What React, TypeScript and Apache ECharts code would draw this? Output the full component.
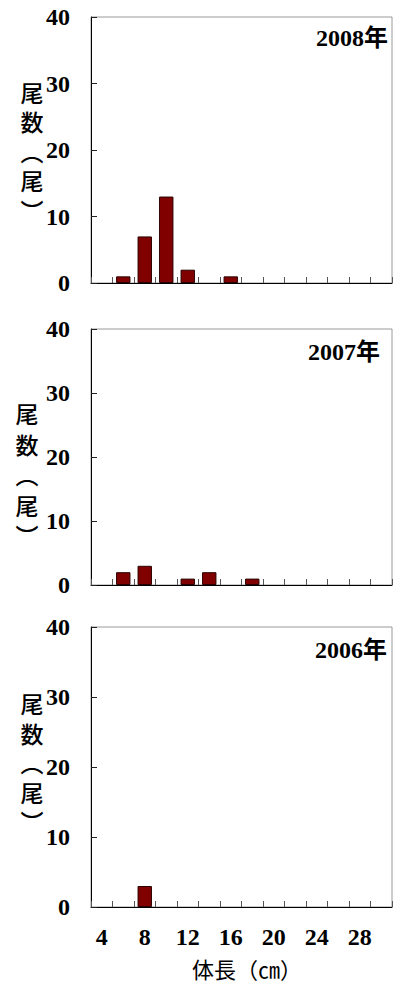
import React, { useEffect, useRef } from "react";
import * as echarts from "echarts";

const lengths = ["4", "6", "8", "10", "12", "14", "16", "18", "20", "22", "24", "26", "28", "30"];
const counts2008 = [0, 1, 7, 13, 2, 0, 1, 0, 0, 0, 0, 0, 0, 0];
const counts2007 = [0, 2, 3, 0, 1, 2, 0, 1, 0, 0, 0, 0, 0, 0];
const counts2006 = [0, 0, 3, 0, 0, 0, 0, 0, 0, 0, 0, 0, 0, 0];
const yearLabels = ["2008年", "2007年", "2006年"];
const yTicks = [0, 10, 20, 30, 40];
const yName = "尾\n数\n︵\n尾\n︶";
const xName = "体長（㎝）";

const SERIF = "'Liberation Serif', 'Times New Roman', serif";
const CJK = "'Noto Sans CJK JP', sans-serif";

export default function App() {
  const ref = useRef<HTMLDivElement>(null);
  useEffect(() => {
    if (!ref.current) return;
    const chart = echarts.init(ref.current, null, { renderer: "svg" });
    const panels = [
      { top: 17, height: 266, data: counts2008, yearX: 388, yearY: 38, nameX: 32, nameY: 91.5, lh: 29.5 },
      { top: 329, height: 256, data: counts2007, yearX: 380, yearY: 352, nameX: 27, nameY: 413, lh: 30.5 },
      { top: 627, height: 280, data: counts2006, yearX: 387, yearY: 650, nameX: 32, nameY: 703, lh: 29.5 },
    ];
    const grids = panels.map((p) => ({
      left: 91,
      width: 301,
      top: p.top,
      height: p.height,
      show: true,
      borderColor: "#9a9a9a",
      borderWidth: 1,
      backgroundColor: "transparent",
      containLabel: false,
    }));
    const xAxes = panels.map((p, i) => ({
      type: "category",
      gridIndex: i,
      data: lengths,
      boundaryGap: true,
      axisLine: { show: true, lineStyle: { color: "#000", width: 1 } },
      axisTick: { show: true, inside: true, length: 6, interval: 0, lineStyle: { color: "#555" } },
      axisLabel: {
        show: i === 2,
        interval: 1,
        margin: 18,
        fontFamily: SERIF,
        fontWeight: "bold",
        fontSize: 24,
        color: "#000",
      },
      splitLine: { show: false },
    }));
    const yAxes = panels.map((p, i) => ({
      type: "value",
      gridIndex: i,
      min: yTicks[0],
      max: yTicks[yTicks.length - 1],
      interval: 10,
      axisLine: { show: true, lineStyle: { color: "#000", width: 1 } },
      axisTick: { show: true, inside: true, length: 6, lineStyle: { color: "#222" } },
      axisLabel: {
        margin: 21,
        fontFamily: SERIF,
        fontWeight: "bold",
        fontSize: 24,
        color: "#000",
      },
      splitLine: { show: false },
    }));
    const series = panels.map((p, i) => ({
      type: "bar",
      xAxisIndex: i,
      yAxisIndex: i,
      data: p.data.map((v) => (v === 0 ? "-" : v)),
      barWidth: "67%",
      itemStyle: { color: "#800000", borderColor: "#2a0000", borderWidth: 1 },
    }));
    const graphic: any[] = [];
    panels.forEach((p, i) => {
      graphic.push({
        type: "text",
        x: p.yearX,
        y: p.yearY,
        style: {
          text: yearLabels[i],
          align: "right",
          verticalAlign: "middle",
          fontFamily: SERIF + ", " + CJK,
          fontWeight: "bold",
          fontSize: 24,
          fill: "#000",
        },
      });
      graphic.push({
        type: "text",
        x: p.nameX,
        y: p.nameY - p.lh / 2,
        style: {
          text: yName,
          align: "center",
          verticalAlign: "top",
          lineHeight: p.lh,
          fontFamily: CJK,
          fontWeight: 500,
          fontSize: 23,
          fill: "#000",
        },
      });
    });
    graphic.push({
      type: "text",
      x: 247,
      y: 968,
      style: {
        text: xName,
        align: "center",
        verticalAlign: "middle",
        fontFamily: CJK,
        fontSize: 22,
        fill: "#000",
      },
    });
    chart.setOption({
      animation: false,
      backgroundColor: "#fff",
      grid: grids,
      xAxis: xAxes,
      yAxis: yAxes,
      series,
      graphic,
    });
    return () => chart.dispose();
  }, []);
  return (
    <div
      ref={ref}
      style={{ position: "fixed", left: 0, top: 0, width: 400, height: 985 }}
    />
  );
}
